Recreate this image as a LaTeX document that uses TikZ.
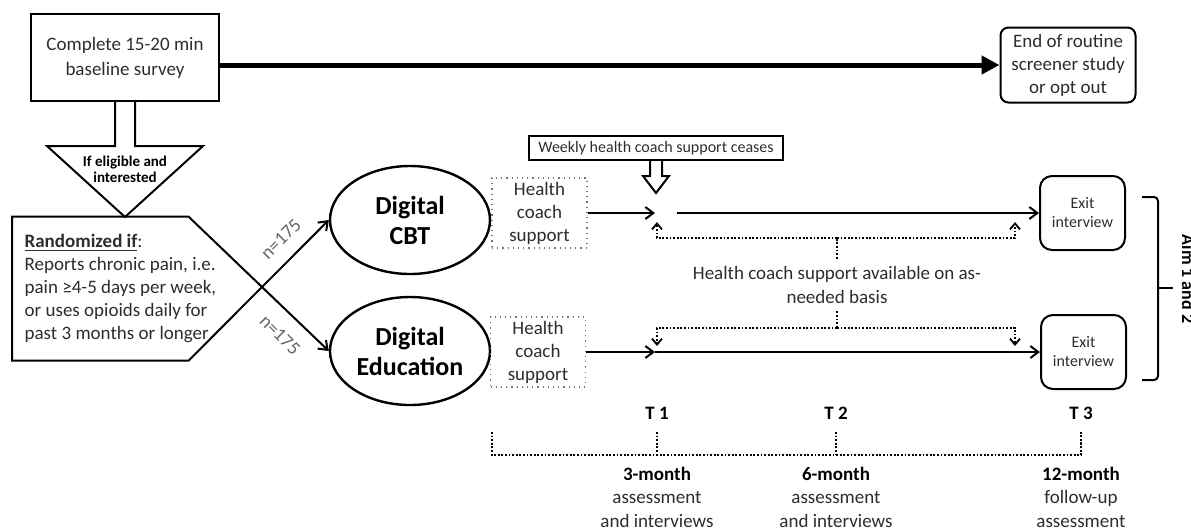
\documentclass[tikz,border=0pt]{standalone}
\usepackage{fontspec}
\setmainfont{Carlito}
\usetikzlibrary{arrows.meta,calc,shapes.geometric}
\definecolor{ctext}{RGB}{45,45,45}
\tikzset{
  flow/.style={x=0.5pt,y=-0.5pt,line width=1pt,font=\fontsize{9.5}{11.5}\selectfont,text=ctext},
  boxed/.style={draw,line width=1pt,align=center,inner sep=0pt},
  roundbox/.style={boxed,rounded corners=6pt},
  coachbox/.style={draw=black!55,dotted,line width=0.6pt,align=center,minimum width=47.5pt,minimum height=35pt,inner sep=0pt},
  arm/.style={draw,ellipse,line width=1.2pt,minimum width=80pt,minimum height=54pt,inner sep=0pt,align=center,font=\fontsize{13}{15}\selectfont\bfseries,text=black},
  arr/.style={-{Straight Barb[length=4pt,width=6pt]},line width=1pt},
  dotline/.style={line width=0.9pt,dash pattern=on 0.9pt off 0.9pt},
  dotarr/.style={dotline,-{Straight Barb[length=3pt,width=5pt]}},
  boldlbl/.style={font=\fontsize{9.5}{11}\selectfont\bfseries,text=black},
}

\begin{document}
\begin{tikzpicture}[flow]
  \useasboundingbox (0,0) rectangle (1191,527);
  % screening
  \node[boxed,minimum width=94pt,minimum height=43.5pt,font=\fontsize{9.5}{12.5}\selectfont] (base) at (125,57.5) {Complete 15-20 min\\baseline survey};
  \node[roundbox,rounded corners=4pt,minimum width=67.5pt,minimum height=37.5pt] (done) at (1068,65) {End of routine\\screener study\\or opt out};
  \draw[line width=2.5pt,-{Triangle[length=9pt,width=9pt]}] (base.east |- done) -- (done.west);
  \draw (base.south) ++(-10,0) -- ++(0,44) -- ++(-68,0) -- ++(78,71) -- ++(78,-71) -- ++(-68,0) -- ++(0,-44);
  \node[font=\fontsize{7.5}{8}\selectfont\bfseries,align=center,text=black] (elig) at (125,169) {If eligible and\\interested};

  % randomisation
  \coordinate (cross) at (262,287);
  \node[arm] (cbt) at (410,220) {Digital\\CBT};
  \node[arm] (edu) at (410,351) {Digital\\Education};
  \coordinate (c1) at ($(cross)!-1.1!(edu.west)$);
  \coordinate (c2) at ($(cross)!-1.1!(cbt.west)$);
  \coordinate (c3) at (c2 -| 12,0);
  \coordinate (c4) at (c1 -| 12,0);
  \draw (c1) -- (cross) -- (c2) -- (c3) -- (c4) -- cycle;
  \draw[arr] (cross) -- (cbt.west);
  \draw[arr] (cross) -- (edu.west);
  \node[rotate=45,text=black!60] (ncbt) at (281,239) {n=175};
  \node[rotate=-45,text=black!60] (nedu) at (280,335) {n=175};
  \node[anchor=west,align=left] (crit) at (17,288) {\underline{\textbf{Randomized if}}:\\Reports chronic pain, i.e.\\pain ≥4-5 days per week,\\or uses opioids daily for\\past 3 months or longer};

  % arms
  \node[coachbox] (hc1) at (539.5,213) {Health\\coach\\support};
  \node[coachbox] (hc2) at (538,352) {Health\\coach\\support};
  \node[roundbox,minimum width=42.5pt,minimum height=37pt,font=\fontsize{8}{9.5}\selectfont] (exit1) at (1082.5,213) {Exit\\interview};
  \node[roundbox,minimum width=42.5pt,minimum height=37pt,font=\fontsize{8}{9.5}\selectfont] (exit2) at (1083.5,352) {Exit\\interview};
  \coordinate (t1a) at (655,213);
  \coordinate (t1c) at (677,213);
  \coordinate (t1b) at (655,352);
  \draw[arr] (hc1) -- (t1a);
  \draw[arr] (t1c) -- (exit1);
  \draw[arr] (hc2) -- (t1b);
  \draw[arr] (t1b) -- (exit2);

  \node[boxed,minimum width=127pt,minimum height=12pt,font=\fontsize{8}{9}\selectfont] (ceases) at (656,148) {Weekly health coach support ceases};
  \draw (ceases.south) ++(-6,0) -- ++(0,15) -- ++(-7,0) -- ++(13,17) -- ++(13,-17) -- ++(-7,0) -- ++(0,-15);

  % as-needed support
  \node[align=center,font=\fontsize{9.5}{12}\selectfont] (note) at (837,285) {Health coach support available on as-\\needed basis};
  \coordinate (hub1) at (837,238);
  \coordinate (hub2) at (837,328);
  \coordinate (up1) at (657,222);
  \coordinate (up3) at (1015,222);
  \coordinate (dn1) at (657,346);
  \coordinate (dn3) at (1015,346);
  \draw[dotline] (note) -- (hub1);
  \draw[dotarr] (hub1) -| (up1);
  \draw[dotarr] (hub1) -| (up3);
  \draw[dotline] (note) -- (hub2);
  \draw[dotarr] (hub2) -| (dn1);
  \draw[dotarr] (hub2) -| (dn3);

  % aims
  \draw[rounded corners=2pt] (1142,197) -| (1158,380) -- (1142,380);
  \draw (1158,288) -- (1173,288);
  \node[rotate=-90,anchor=base,font=\fontsize{9}{10}\selectfont\bfseries,text=black] (aim) at (1182,279) {Aim 1 and 2};

  % timeline
  \draw[dotline] (492,432) |- (1081,455) -- (1081,432);
  \foreach \x/\k in {657/1,836/2,1081/3} {
    \draw[dotline] (\x,432) -- (\x,455);
    \node[boldlbl] (T\k) at (\x,413) {T \k};
  }
  \node[align=center,font=\fontsize{9.5}{11.75}\selectfont] (m3) at (657,497) {\textbf{\color{black}3-month}\\assessment\\and interviews};
  \node[align=center,font=\fontsize{9.5}{11.75}\selectfont] (m6) at (836,497) {\textbf{\color{black}6-month}\\assessment\\and interviews};
  \node[align=center,font=\fontsize{9.5}{11.75}\selectfont] (m12) at (1081,497) {\textbf{\color{black}12-month}\\follow-up\\assessment};
\end{tikzpicture}
\end{document}
